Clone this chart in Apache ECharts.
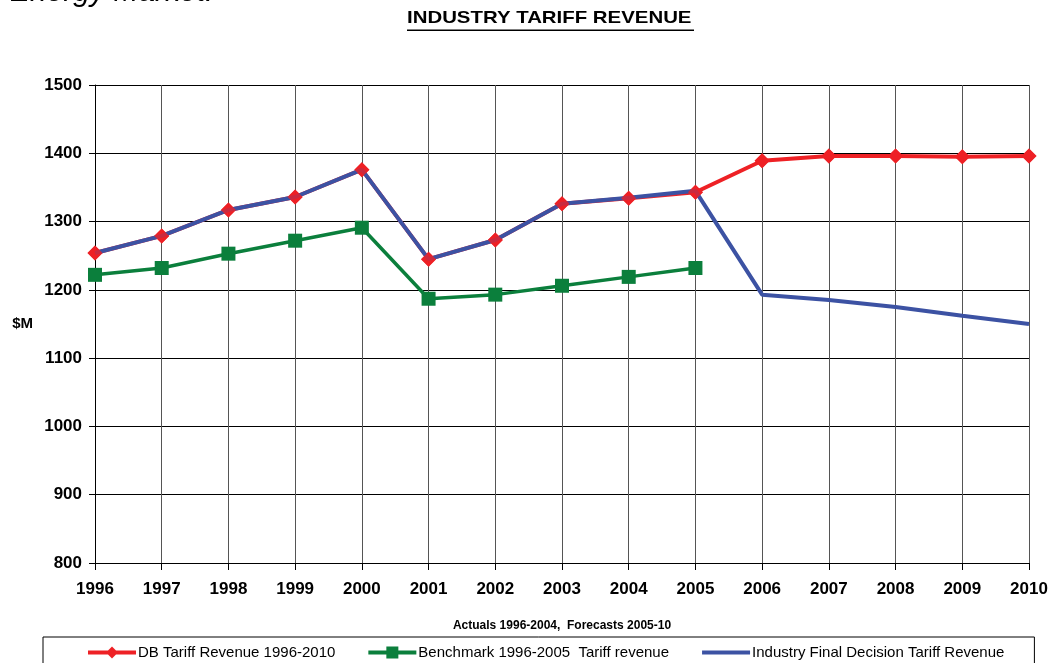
<!DOCTYPE html>
<html>
<head>
<meta charset="utf-8">
<script src="https://cdn.jsdelivr.net/npm/echarts@6/dist/echarts.min.js"></script>
<style>
  html, body { margin: 0; padding: 0; background: #fff; }
  #chart { width: 1051px; height: 663px; }
</style>
</head>
<body>
<div id="chart"></div>
<script>
  var years = ['1996', '1997', '1998', '1999', '2000', '2001', '2002', '2003',
    '2004', '2005', '2006', '2007', '2008', '2009', '2010'];
  var dbRevenue = [1254, 1279, 1317, 1336, 1376, 1245, 1273, 1326, 1334, 1343,
    1389, 1396, 1396, 1395, 1396];
  var benchmark = [1222, 1232, 1253, 1272, 1291, 1187, 1193, 1206, 1219, 1232];
  var industryFinal = [1254, 1279, 1317, 1336, 1376, 1245, 1273, 1326, 1335, 1345,
    1193, 1185, 1175, 1162, 1150];
  var yTicks = { min: 800, max: 1500, interval: 100 };

  var red = '#ee2125';
  var green = '#0b7f3c';
  var blue = '#3c52a3';
  var font = 'Arial, "Liberation Sans", sans-serif';

  // legend icons: thick line with the series marker
  var iconDiamond = 'path://M0,4H20L24,0L28,4H48V8H28L24,12L20,8H0Z';
  var iconSquare = 'path://M0,4H18V0H30V4H48V8H30V12H18V8H0Z';
  var iconLine = 'path://M0,4H48V8H0Z';

  var chart = echarts.init(document.getElementById('chart'));
  var option = {
    animation: false,
    textStyle: { fontFamily: font, color: '#000' },
    graphic: [
      {
        type: 'text',
        x: 407,
        y: 10,
        scaleX: 1.2,
        style: { text: 'INDUSTRY TARIFF REVENUE', font: 'bold 17px ' + font, fill: '#000' }
      },
      {
        type: 'rect',
        shape: { x: 407, y: 29.5, width: 287, height: 1.5 },
        style: { fill: '#000' }
      },
      {
        type: 'text',
        x: 10,
        y: -22,
        style: { text: 'Energy Market.', font: 'italic 30px ' + font, fill: '#000' }
      }
    ],
    grid: { left: 95, right: 22, top: 85, bottom: 100 },
    legend: {
      data: [
        { name: 'DB Tariff Revenue 1996-2010', icon: iconDiamond },
        { name: 'Benchmark 1996-2005  Tariff revenue', icon: iconSquare },
        { name: 'Industry Final Decision Tariff Revenue', icon: iconLine }
      ],
      left: 43,
      right: 0,
      top: 637,
      padding: [8, 30, 8, 45],
      itemGap: 33,
      itemWidth: 48,
      itemHeight: 12,
      borderColor: '#000',
      borderWidth: 1,
      textStyle: { fontSize: 15, color: '#000', fontFamily: font, padding: [0, 0, 0, -3] }
    },
    xAxis: {
      type: 'category',
      data: years,
      boundaryGap: false,
      name: 'Actuals 1996-2004,  Forecasts 2005-10',
      nameLocation: 'middle',
      nameGap: 57,
      nameTextStyle: { fontSize: 12, fontWeight: 'bold', color: '#000' },
      axisLine: { lineStyle: { color: '#000', width: 1 } },
      axisTick: { show: true, length: 7, alignWithLabel: true, lineStyle: { color: '#000' } },
      axisLabel: { fontSize: 17, fontWeight: 'bold', color: '#000', margin: 18 },
      splitLine: { show: true, lineStyle: { color: '#555', width: 1 } }
    },
    yAxis: {
      type: 'value',
      min: yTicks.min,
      max: yTicks.max,
      interval: yTicks.interval,
      name: '$M',
      nameLocation: 'middle',
      nameRotate: 0,
      nameGap: 62,
      nameTextStyle: { fontSize: 15, fontWeight: 'bold', color: '#000' },
      axisLine: { show: true, lineStyle: { color: '#000', width: 1 } },
      axisTick: { show: true, length: 6, lineStyle: { color: '#000' } },
      axisLabel: {
        fontSize: 17, fontWeight: 'bold', color: '#000', margin: 13,
        formatter: function (v) { return String(v); }
      },
      splitLine: { show: true, lineStyle: { color: '#000', width: 1 } }
    },
    series: [
      {
        name: 'DB Tariff Revenue 1996-2010',
        type: 'line',
        data: dbRevenue,
        z: 2,
        symbol: 'diamond',
        symbolSize: 15,
        lineStyle: { color: red, width: 4 },
        itemStyle: { color: red }
      },
      {
        name: 'Benchmark 1996-2005  Tariff revenue',
        type: 'line',
        data: benchmark,
        z: 2,
        symbol: 'rect',
        symbolSize: 14,
        lineStyle: { color: green, width: 3.5 },
        itemStyle: { color: green }
      },
      {
        name: 'Industry Final Decision Tariff Revenue',
        type: 'line',
        data: industryFinal,
        z: 3,
        symbol: 'none',
        lineStyle: { color: blue, width: 4 },
        itemStyle: { color: blue }
      },
      {
        // red diamonds drawn again above the blue line
        name: 'DB markers',
        type: 'scatter',
        data: dbRevenue,
        z: 4,
        symbol: 'diamond',
        symbolSize: 15,
        itemStyle: { color: red }
      }
    ]
  };
  chart.setOption(option);
</script>
</body>
</html>
